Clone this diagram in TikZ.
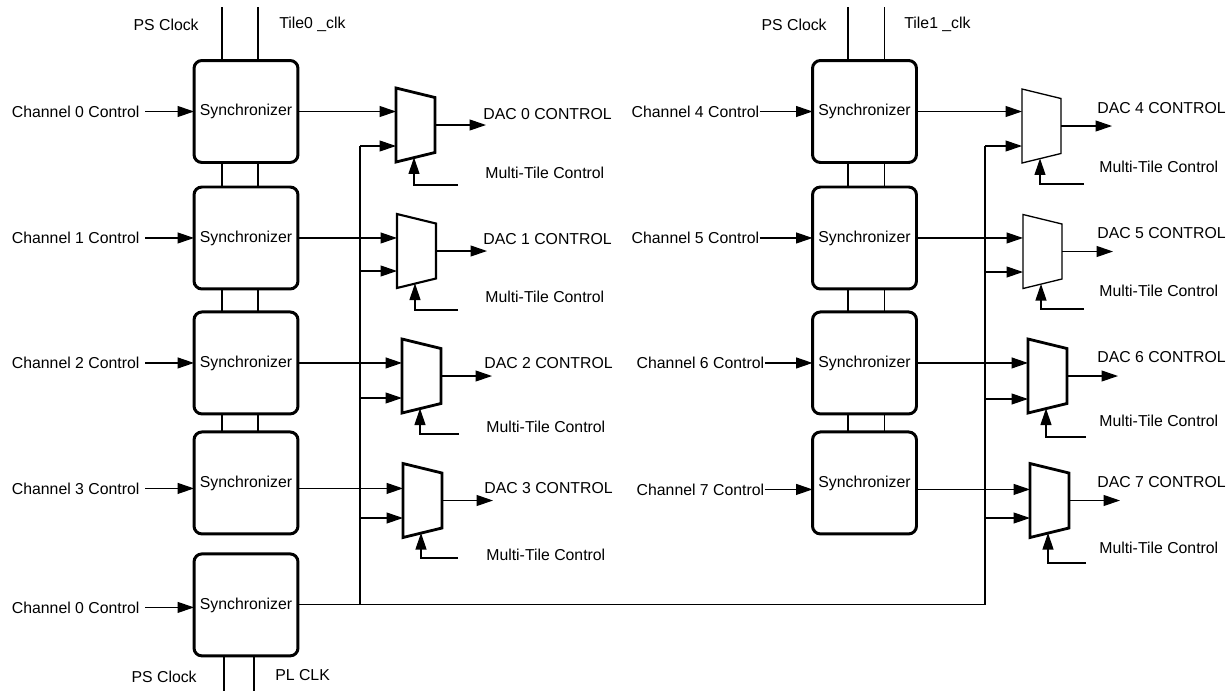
\documentclass[tikz,border=0pt]{standalone}
\usepackage{fontspec}
\setmainfont{Liberation Sans}
\usetikzlibrary{arrows.meta,positioning}

\begin{document}
\begin{tikzpicture}[
  x=0.02cm, y=-0.02cm,
  font=\fontsize{9}{11}\selectfont,
  sync/.style={draw, line width=1.7pt, rounded corners=4.5pt, minimum width=2.08cm, minimum height=2.04cm, inner sep=0pt, outer sep=0pt},
  mux/.style={minimum width=0.78cm, minimum height=1.48cm, inner sep=0pt, outer sep=0pt},
  lbl/.style={inner sep=0pt},
  chl/.style={inner sep=3pt},
  wire/.style={line width=0.65pt},
  arr/.style={-{Triangle[length=0.33cm,width=0.22cm]}, line width=0.65pt},
  clk/.style={line width=1.1pt},
  clkthin/.style={line width=0.7pt}
]
\useasboundingbox (0,0) rectangle (1231,691);

% tile 0 synchronizers
\node[sync] (sync0) at (246,111.5) {Synchronizer};
\node[sync, below=0.49cm of sync0] (sync1) {Synchronizer};
\node[sync, below=0.46cm of sync1] (sync2) {Synchronizer};
\node[sync, below=0.36cm of sync2] (sync3) {Synchronizer};
\node[sync, below=0.40cm of sync3] (syncpl) {Synchronizer};
% tile 1 synchronizers
\node[sync] (sync4) at (864.5,111.5) {Synchronizer};
\node[sync, below=0.49cm of sync4] (sync5) {Synchronizer};
\node[sync, below=0.46cm of sync5] (sync6) {Synchronizer};
\node[sync, below=0.36cm of sync6] (sync7) {Synchronizer};

% channel inputs
\node[chl, left=0.98cm of sync0] (ch0) {Channel 0 Control};
\node[chl, left=0.98cm of sync1] (ch1) {Channel 1 Control};
\node[chl, left=0.98cm of sync2] (ch2) {Channel 2 Control};
\node[chl, left=0.98cm of sync3, yshift=-0.11cm] (ch3) {Channel 3 Control};
\node[chl, left=0.98cm of syncpl, yshift=-0.05cm] (chpl) {Channel 0 Control};
\node[lbl, left=1.06cm of sync4] (ch4) {Channel 4 Control};
\node[lbl, left=1.06cm of sync5] (ch5) {Channel 5 Control};
\node[lbl, left=0.96cm of sync6] (ch6) {Channel 6 Control};
\node[lbl, left=0.96cm of sync7, yshift=-0.13cm] (ch7) {Channel 7 Control};
\foreach \c/\s in {ch0/sync0, ch1/sync1, ch2/sync2, ch3/sync3, chpl/syncpl, ch4/sync4, ch5/sync5, ch6/sync6, ch7/sync7}
  \draw[arr] (\c) -- (\c -| \s.west);

% clocks
\coordinate (ps0) at (222,7);
\coordinate (tile0) at (258,7);
\coordinate (pspl) at (224,691);
\coordinate (plclk) at (254,691);
\coordinate (ps1) at (848,7);
\coordinate (tile1) at (884.5,7);
\node[lbl, anchor=east] (ps0lbl) at (199,25) {PS Clock};
\node[lbl, anchor=west] (tile0lbl) at (279,24) {Tile0 \_clk};
\node[lbl, anchor=east] (psbotlbl) at (197,677) {PS Clock};
\node[lbl, anchor=west] (pllbl) at (275,675) {PL CLK};
\node[lbl, anchor=east] (ps1lbl) at (827,25) {PS Clock};
\node[lbl, anchor=west] (tile1lbl) at (904,24) {Tile1 \_clk};
\draw[clk] (ps0) -- (ps0 |- sync0.north);
\draw[clk] (tile0) -- (tile0 |- sync0.north);
\draw[clk] (pspl |- syncpl.south) -- (pspl);
\draw[clk] (plclk |- syncpl.south) -- (plclk);
\draw[clkthin] (ps1) -- (ps1 |- sync4.north);
\draw[clkthin] (tile1) -- (tile1 |- sync4.north);
\foreach \a/\c in {sync0/sync1, sync1/sync2, sync2/sync3} {
  \draw[clk] (ps0 |- \a.south) -- (ps0 |- \c.north);
  \draw[clk] (tile0 |- \a.south) -- (tile0 |- \c.north);
}
\foreach \a/\c in {sync4/sync5, sync5/sync6, sync6/sync7} {
  \draw[clkthin] (ps1 |- \a.south) -- (ps1 |- \c.north);
  \draw[clkthin] (tile1 |- \a.south) -- (tile1 |- \c.north);
}

% multi-tile bus
\coordinate (busL) at (360,0 |- syncpl.east);
\coordinate (busR) at (985,0 |- syncpl.east);
\draw[wire] (syncpl.east) -- (busR);
\draw[wire] (busL) -- (busL |- 0,146);
\draw[wire] (busR) -- (busR |- 0,146);

% muxes
\foreach \i/\b/\x/\y/\lw/\lo/\sx/\sel/\dx/\dy/\my in {
  0/L/415.5/125/1.6pt/146/458/185/483/114/173,
  1/L/416.5/251/1.2pt/271/458/310/483/239/297,
  2/L/421.5/376/1.6pt/398/459/434/484/363/427,
  3/L/422.5/500.5/1.6pt/518/458/558/484/488/555,
  4/R/1041.5/126/0.75pt/146/1084/184/1097/108/167,
  5/R/1042.5/251.5/0.75pt/272/1084/309/1097/233/291,
  6/R/1047.5/376/1.6pt/399/1086/437/1097/357/421,
  7/R/1049.5/500.5/1.6pt/518/1086/563/1097/482/548} {
  \node[mux] (mux\i) at (\x,\y) {};
  \draw[line width=\lw] (mux\i.north west) -- ([yshift=-0.19cm]mux\i.north east)
    -- ([yshift=0.19cm]mux\i.south east) -- (mux\i.south west) -- cycle;
  \node[lbl, anchor=west] (dac\i) at (\dx,\dy) {DAC \i{} CONTROL};
  \node[lbl, anchor=west] (mt\i) at (\dx+2,\my) {Multi-Tile Control};
  \coordinate (sel\i) at (\sx,\sel);
  \draw[arr] (ch\i -| sync\i.east) -- (ch\i -| mux\i.west);
  \draw[arr] (bus\b |- 0,\lo) -- (mux\i.west |- 0,\lo);
  \draw[arr] (mux\i.east) -- ++(51,0) coordinate (out\i);
  \draw[arr] (sel\i) -| ([xshift=-0.03cm,yshift=0.09cm]mux\i.south);
}
\end{tikzpicture}
\end{document}
